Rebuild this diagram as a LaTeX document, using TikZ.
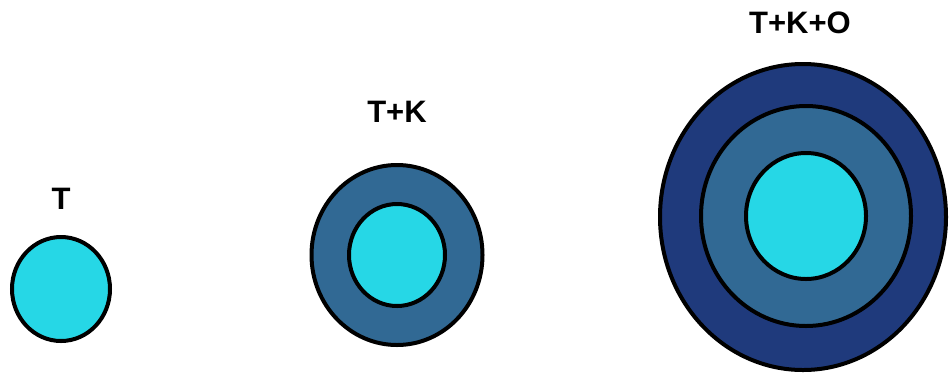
\documentclass[tikz,border=0pt]{standalone}
\usepackage{fontspec}
\setmainfont{Liberation Sans}
\usetikzlibrary{shapes.geometric}
\definecolor{cyanT}{RGB}{38,215,230}
\definecolor{steelK}{RGB}{49,105,148}
\definecolor{navyO}{RGB}{31,58,124}
\begin{document}
\begin{tikzpicture}[x=1pt,y=-1pt,
  ring/.style={ellipse,draw=black,line width=4pt,inner sep=0pt,outer sep=0pt},
  lbl/.style={font=\fontsize{31}{31}\selectfont\bfseries,anchor=base,inner sep=0pt}]
\useasboundingbox (0,0) rectangle (949,376);
% T
\node[ring,fill=cyanT,minimum width=98pt,minimum height=104pt] (t1) at (61,289) {};
\node[lbl] (l1) at (61,209) {T};
% T+K
\node[ring,fill=steelK,minimum width=171pt,minimum height=180pt] (k2) at (397,255) {};
\node[ring,fill=cyanT,minimum width=96pt,minimum height=102pt] (t2) at (397,255) {};
\node[lbl] (l2) at (397,122) {T+K};
% T+K+O
\node[ring,fill=navyO,minimum width=286pt,minimum height=306pt] (o3) at (803,217) {};
\node[ring,fill=steelK,minimum width=210pt,minimum height=220pt] (k3) at (806,216) {};
\node[ring,fill=cyanT,minimum width=120pt,minimum height=126pt] (t3) at (806,216) {};
\node[lbl] (l3) at (800,33) {T+K+O};
\end{tikzpicture}
\end{document}
